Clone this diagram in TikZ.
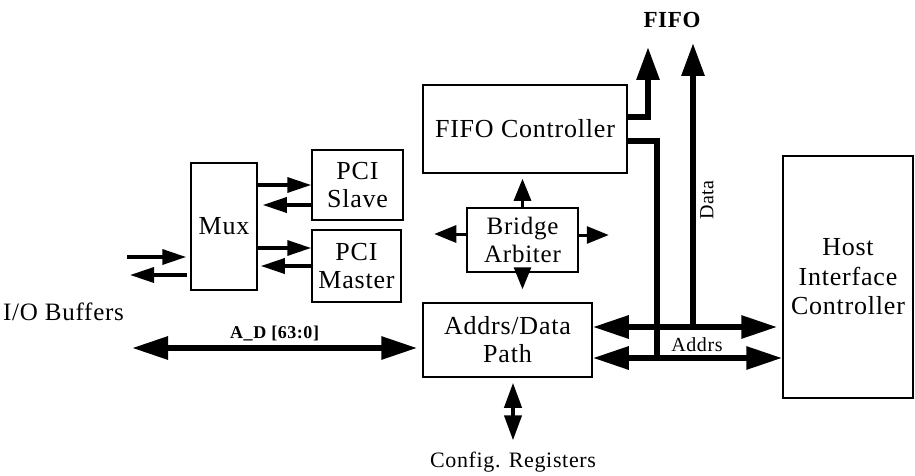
\documentclass[tikz,border=0pt]{standalone}
\usepackage{fontspec}
\setmainfont{Liberation Serif}[LetterSpace=3]
\usetikzlibrary{arrows.meta,calc}

\begin{document}
\begin{tikzpicture}[
  x=1pt, y=-1pt,
  blk/.style={draw, line width=1.5pt, inner sep=0pt, align=center, font=\fontsize{26}{28}\selectfont},
  sig/.style={-{Triangle[length=24pt,width=15pt]}, line width=3.5pt},
  ctl/.style={-{Triangle[length=22pt,width=17pt]}, line width=3pt},
  cfgarr/.style={{Triangle[length=25pt,width=17pt]}-{Triangle[length=25pt,width=17pt]}, line width=4pt},
  bus/.style={line width=6pt},
  bustip/.style={-{Triangle[length=33pt,width=22pt]}, bus},
  busboth/.style={{Triangle[length=36pt,width=22pt]}-{Triangle[length=36pt,width=22pt]}, bus},
  lbl/.style={font=\fontsize{20}{22}\selectfont}
]
  \useasboundingbox (0,0) rectangle (915,476);

  \node[blk, minimum width=66pt, minimum height=127pt] (mux) at (224,226.5) {Mux};
  \node[blk, minimum width=91pt, minimum height=70pt] (slave) at (357.5,185) {PCI\\Slave};
  \node[blk, minimum width=89pt, minimum height=72pt] (master) at (356.5,266) {PCI\\Master};
  \node[blk, minimum width=204pt, minimum height=88pt] (fifoc) at (525,129) {FIFO Controller};
  \node[blk, minimum width=111pt, minimum height=64pt, font=\fontsize{25}{28}\selectfont] (arb) at (522.5,240) {Bridge\\Arbiter};
  \node[blk, minimum width=169pt, minimum height=74pt] (adp) at (507.5,340) {Addrs/Data\\Path};
  \node[blk, minimum width=130pt, minimum height=242pt, font=\fontsize{26}{29.5}\selectfont] (host) at (848,277) {Host\\Interface\\Controller};

  \node[font=\fontsize{25}{27}\selectfont] (iobuf) at (63.5,312) {I/O Buffers};
  \node[font=\bfseries\fontsize{23}{25}\selectfont] (fifolbl) at (672,20) {FIFO};
  \node[font=\fontsize{22}{24}\selectfont] (cfg) at (513,462) {Config. Registers};
  \node[lbl, rotate=90] (datalbl) at (707,200) {Data};

  \coordinate (ioin) at (127,257);
  \coordinate (ioout) at (130,275);
  \coordinate (adfree) at (132,348);
  \coordinate (fifotop) at (648,47);
  \coordinate (datatop) at (693,43);

  \draw[sig] (ioin) -- ($(ioin -| mux.west)+(-4,0)$);
  \draw[sig] ($(ioout -| mux.west)+(-3,0)$) -- (ioout);
  \draw[sig] (mux.east |- slave.west) -- (slave.west);
  \draw[sig] ($(slave.west)+(0,20)$) -- ($(slave.west -| mux.east)+(5,20)$);
  \draw[sig] ($(master.west -| mux.east)+(0,-18)$) -- ($(master.west)+(0,-18)$);
  \draw[sig] (master.west) -- ($(master.west -| mux.east)+(3,0)$);

  \draw[ctl] (arb.north) -- ($(arb.north |- fifoc.south)+(0,5)$);
  \draw[ctl] (arb.south) -- ($(arb.south |- adp.north)+(0,-13)$);
  \draw[ctl] ($(arb.west)+(0,-6)$) -- ($(arb.west)+(-32,-6)$);
  \draw[ctl] ($(arb.east)+(0,-5)$) -- ($(arb.east)+(30,-5)$);

  \draw[busboth] (adfree) -- node[midway, above=1pt, font=\bfseries\fontsize{18}{20}\selectfont] (adlbl) {A\_D [63:0]} ($(adp.west)+(-5,8)$);
  \draw[cfgarr] ($(cfg.north |- adp.south)+(0,5)$) -- ($(cfg.north)+(0,-8)$);

  \draw[bustip] ($(fifoc.north east)+(0,33)$) -| (fifotop);
  \draw[bus] ($(fifoc.north east)+(0,57)$) -| ($(adp.east)+(64,18)$);
  \draw[bustip] ($(datatop |- adp.east)+(0,-13)$) -- (datatop);
  \draw[busboth] ($(adp.east)+(0,-13)$) -- ($(host.west |- adp.east)+(-5,-13)$);
  \draw[busboth] ($(adp.east)+(0,18)$) -- node[pos=0.55, above=0pt, lbl] (addrlbl) {Addrs} ($(host.west |- adp.east)+(0,18)$);
\end{tikzpicture}
\end{document}
